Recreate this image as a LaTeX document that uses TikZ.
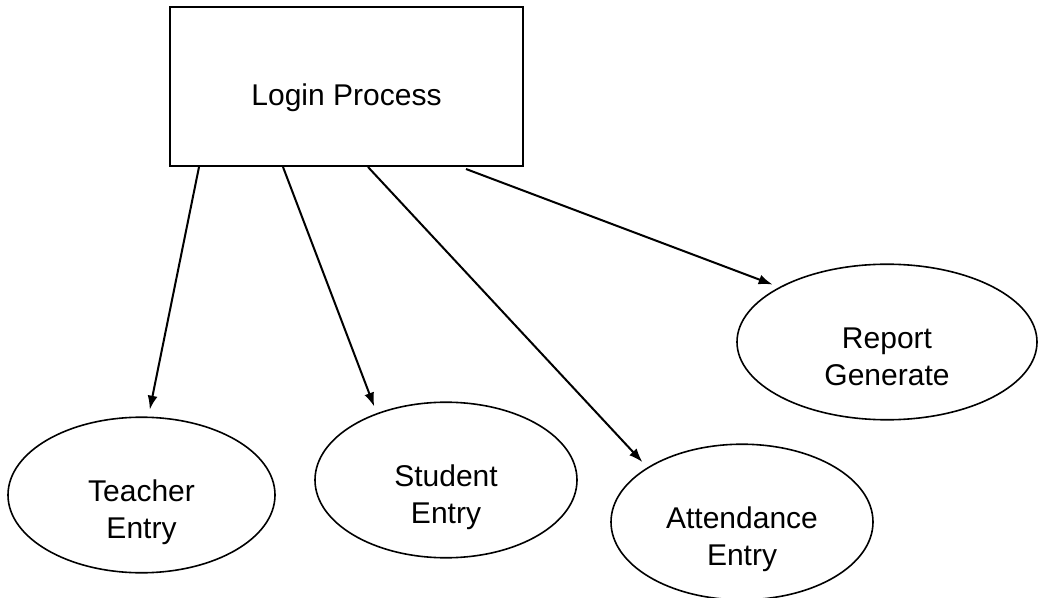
\documentclass[tikz,border=0pt]{standalone}
\usepackage{fontspec}
\setmainfont{Liberation Sans}
\usetikzlibrary{arrows.meta,shapes.geometric,calc,positioning}
\newcommand{\lowtext}[2][18pt]{\vbox{\kern#1\hbox{\begin{tabular}{@{}c@{}}#2\end{tabular}}}}
\tikzset{
    txtsty/.style={font=\fontsize{15}{18.5}\selectfont},
    procsty/.style={draw,line width=1pt,rectangle,minimum width=176.5pt,minimum height=79.5pt,inner sep=0pt,txtsty},
    entsty/.style={draw,line width=0.8pt,ellipse,inner sep=0pt,txtsty},
    arrsty/.style={->,line width=1pt,shorten >=3.5pt},
}

\begin{document}
\begin{tikzpicture}[x=0.5pt,y=-0.5pt,>={Latex[length=7pt,width=5pt]}]
  \useasboundingbox (0,0) rectangle (1038,598);

  \node[procsty] (login) at (346.5,86.5) {\lowtext[12pt]{Login Process}};

  \node[entsty,minimum width=133.5pt,minimum height=77pt] (teacher) at (141.5,495) {\lowtext{Teacher\\Entry}};
  \node[entsty,minimum width=131pt,minimum height=77pt] (student) at (446,480) {\lowtext{Student\\Entry}};
  \node[entsty,minimum width=131pt,minimum height=74pt] (attend) at (742,522) {\lowtext{Attendance\\Entry}};
  \node[entsty,minimum width=150pt,minimum height=77pt] (report) at (887,342) {\lowtext{Report\\Generate}};

  \draw[arrsty] ($(login.south west)+(30,0)$) -- (teacher.85);
  \draw[arrsty] ($(login.south west)+(114,0)$) -- (student.136);
  \draw[arrsty] ($(login.south west)+(199,0)$) -- (attend.150);
  \draw[arrsty] ($(login.south west)+(297,2)$) -- (report.153);
\end{tikzpicture}
\end{document}
